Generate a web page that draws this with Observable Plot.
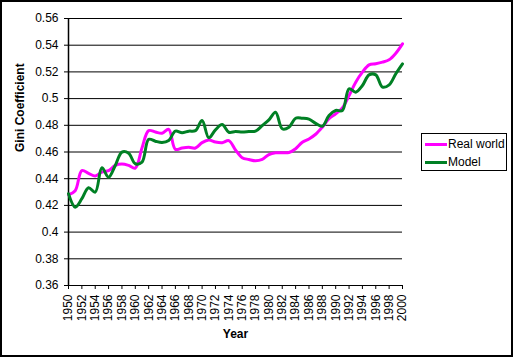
<!DOCTYPE html>
<html>
<head>
<meta charset="utf-8">
<script src="https://cdn.jsdelivr.net/npm/d3@7"></script>
<script src="https://cdn.jsdelivr.net/npm/@observablehq/plot@0.6"></script>
<style>
  html, body { margin: 0; padding: 0; background: #fff; }
  #wrap { position: relative; width: 516px; height: 361px; font-family: "Liberation Sans", Arial, sans-serif; }
  #border { position: absolute; left: 0; top: 0; width: 513px; height: 357px; box-sizing: border-box; border: 2px solid #000; pointer-events: none; }
  #legend { position: absolute; left: 421px; top: 133px; width: 86px; height: 38px; box-sizing: border-box; border: 1px solid #000; background: #fff; font-size: 12px; color: #000; }
  .item { position: absolute; left: 0; height: 14px; line-height: 14px; }
  .swatch { position: absolute; left: 3px; top: 6px; width: 22px; height: 3px; }
  .lbl { position: absolute; left: 26px; top: 0; white-space: nowrap; }
</style>
</head>
<body>
<div id="wrap">
  <div id="chart"></div>
  <div id="legend"></div>
  <div id="border"></div>
</div>
<script>
const years = d3.range(1950, 2001);
const realWorld = [
  0.428, 0.431, 0.446, 0.444, 0.442, 0.445, 0.446, 0.450, 0.451, 0.450,
  0.448, 0.463, 0.476, 0.475, 0.474, 0.477, 0.462, 0.463, 0.4635, 0.463,
  0.467, 0.469, 0.4675, 0.467, 0.4685, 0.4615, 0.4557, 0.4544, 0.4534, 0.4544,
  0.4581, 0.4594, 0.4594, 0.4596, 0.4624, 0.4673, 0.4698, 0.4733, 0.4786, 0.4849,
  0.4886, 0.4931, 0.5023, 0.5123, 0.5198, 0.5253, 0.5261, 0.5273, 0.5291, 0.534,
  0.541
];
const model = [
  0.4287, 0.4187, 0.425, 0.4332, 0.4299, 0.4482, 0.4411, 0.4499, 0.4599, 0.4591,
  0.4512, 0.4524, 0.4695, 0.4681, 0.4671, 0.4686, 0.4756, 0.4744, 0.4756, 0.476,
  0.4836, 0.4706, 0.4766, 0.4806, 0.4748, 0.4753, 0.475, 0.4753, 0.4756, 0.4798,
  0.4841, 0.4898, 0.4774, 0.4786, 0.4853, 0.4853, 0.4846, 0.4815, 0.4793, 0.4873,
  0.4911, 0.4911, 0.5073, 0.5048, 0.5098, 0.5178, 0.5178, 0.5086, 0.5103, 0.5186,
  0.526
];
const yTicks = [0.36, 0.38, 0.4, 0.42, 0.44, 0.46, 0.48, 0.5, 0.52, 0.54, 0.56];
const xTicks = d3.range(1950, 2001, 2);
const seriesNames = ["Real world", "Model"];
const seriesColors = ["#ff00ff", "#008024"];

const rows = [];
years.forEach((yr, i) => {
  rows.push({year: yr, value: realWorld[i], series: seriesNames[0]});
});
years.forEach((yr, i) => {
  rows.push({year: yr, value: model[i], series: seriesNames[1]});
});

const chart = Plot.plot({
  width: 516,
  height: 361,
  marginLeft: 68,
  marginRight: 114,
  marginTop: 18,
  marginBottom: 76,
  style: {fontFamily: "'Liberation Sans', Arial, sans-serif", fontSize: "12px", color: "#000", background: "transparent"},
  x: {domain: [1950, 2000]},
  y: {domain: [0.36, 0.56]},
  color: {domain: seriesNames, range: seriesColors},
  marks: [
    Plot.ruleY(yTicks, {stroke: "#000", strokeWidth: 1}),
    Plot.ruleX([1950], {stroke: "#000", strokeWidth: 1.5}),
    Plot.axisY({ticks: yTicks, tickSize: 4, tickPadding: 6, tickFormat: d => String(+d.toFixed(2)), label: null, stroke: "#000"}),
    Plot.axisX({ticks: xTicks, tickSize: 4, tickPadding: 5, tickRotate: -90, tickFormat: d => String(d), label: null, stroke: "#000"}),
    Plot.line(rows, {x: "year", y: "value", z: "series", stroke: "series", strokeWidth: 3, curve: "catmull-rom"}),
    Plot.text(["Year"], {frameAnchor: "bottom", dy: 52, fontWeight: "bold", fontSize: 12}),
    Plot.text(["Gini Coefficient"], {frameAnchor: "left", dx: -48, rotate: -90, fontWeight: "bold", fontSize: 12})
  ]
});
document.getElementById("chart").appendChild(chart);

const legend = document.getElementById("legend");
seriesNames.forEach((name, i) => {
  const item = document.createElement("div");
  item.className = "item";
  item.style.top = (3 + i * 18) + "px";
  const sw = document.createElement("div");
  sw.className = "swatch";
  sw.style.background = seriesColors[i];
  const lb = document.createElement("div");
  lb.className = "lbl";
  lb.textContent = name;
  item.appendChild(sw);
  item.appendChild(lb);
  legend.appendChild(item);
});
</script>
</body>
</html>
